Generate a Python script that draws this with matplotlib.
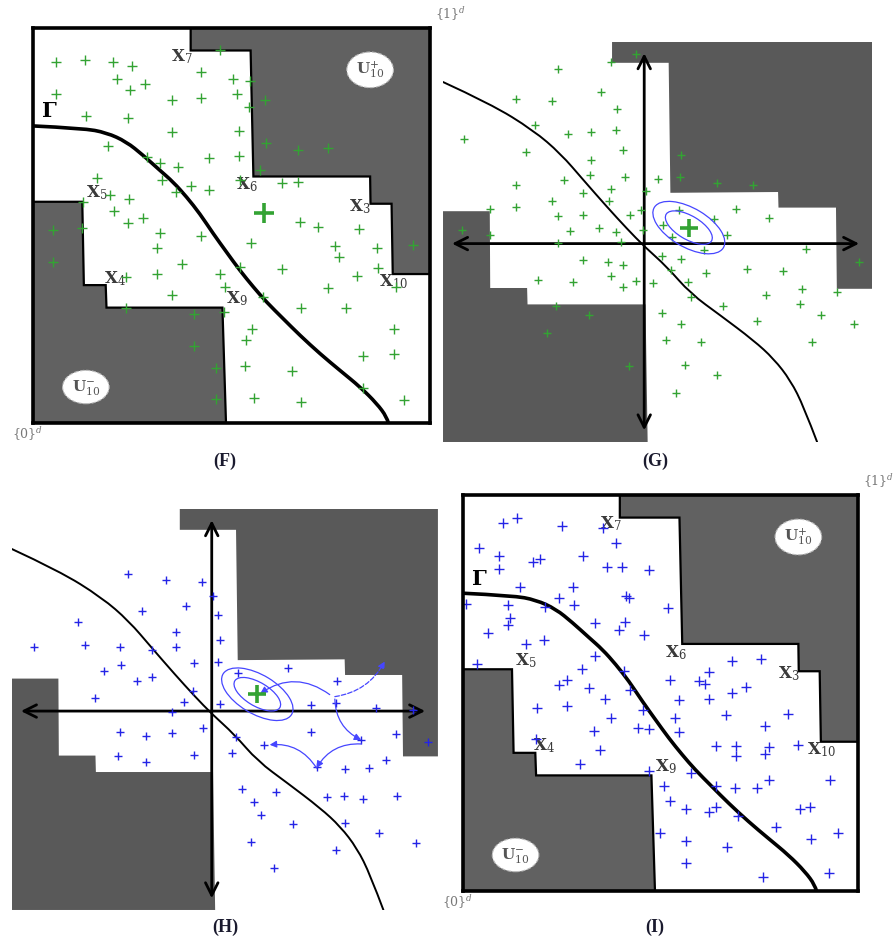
import matplotlib.pyplot as plt
from matplotlib.patches import Polygon, Ellipse, FancyArrowPatch, PathPatch
from matplotlib.path import Path

plt.rcParams['mathtext.fontset'] = 'dejavuserif'

# ---------------- shapes (panel units 0..100) ----------------
# (F) and (I): whole unit cube
box_upper = [(39.7, 100), (39.7, 94.3), (54.8, 94.3), (55.5, 62.4), (84.9, 62.4), (85.0, 55.5),
             (90.3, 55.5), (90.6, 37.7), (100, 37.7), (100, 100)]
box_lower = [(0, 56.0), (12.4, 56.0), (12.8, 34.9), (18.3, 34.9), (18.5, 29.2), (47.7, 29.2),
             (48.6, 0), (0, 0)]
gamma_x = [0, 12.6, 18.5, 23.5, 27.7, 31.9, 35.3, 38.7, 42.0, 45.4, 48.7, 52.1, 55.5, 58.8,
           63.0, 67.2, 72.3, 77.3, 82.4, 86.6, 89.1, 89.5]
gamma_y = [75.2, 74.6, 73.5, 71.2, 67.8, 64.0, 61.0, 57.2, 53.0, 47.9, 43.3, 38.6, 34.4, 30.6,
           26.4, 22.2, 17.5, 13.3, 9.1, 4.9, 1.5, 0]
box_labels = [r'$\mathbf{X}_7$', r'$\mathbf{X}_5$', r'$\mathbf{X}_6$', r'$\mathbf{X}_3$',
              r'$\mathbf{X}_4$', r'$\mathbf{X}_9$']
box_label_x = [37.4, 16.0, 53.8, 82.4, 20.6, 51.3]
box_label_y = [92.8, 58.2, 60.3, 54.8, 36.6, 31.5]
x10_pos = (90.8, 35.8)
gamma_pos = (4.2, 78.9)
u_plus_pos = (84.9, 89.4)
u_minus_pos = (13.3, 9.1)

# (G) and (H): zoomed view around a point
zoom_upper = [(39.4, 100), (39.4, 94.8), (52.6, 94.8), (53.0, 62.3), (78.1, 62.5), (78.2, 58.6),
              (91.6, 58.6), (91.8, 38.3), (100, 38.3), (100, 100)]
zoom_lower = [(0, 57.7), (10.9, 57.7), (11.0, 38.5), (19.6, 38.5), (19.7, 34.4), (47.2, 34.4),
              (47.7, 0), (0, 0)]
curve_x = [0, 11.0, 21.1, 27.4, 32.8, 38.2, 42.9, 46.9, 52.2, 57.7, 64.6, 72.4, 77.1, 81.0, 84.1, 87.2]
curve_y = [90.0, 84.6, 77.9, 72.1, 65.4, 58.8, 53.3, 48.9, 43.8, 37.1, 31.7, 25.4, 20.8, 15.4, 8.8, 0]
origin = (46.9, 49.6)
h_axis = (2.1, 97.0)
v_axis = (97.2, 2.9)

# ---------------- points ----------------
f_x = [5.7, 13.2, 20.2, 25.0, 21.2, 28.3, 24.4, 5.7, 13.4, 23.8, 35.0, 42.4, 42.3, 50.3, 51.3, 47.1,
       54.6, 58.4, 54.5, 35.0, 51.9, 18.9, 28.6, 31.9, 36.4, 44.4, 51.8, 58.8, 66.8, 74.4, 57.1, 16.2,
       32.6, 39.9, 36.0, 44.4, 52.1, 62.6, 66.8, 19.3, 24.2, 12.6, 20.3, 23.8, 27.7, 5.0, 12.4, 31.9,
       42.3, 31.1, 54.9, 5.0, 37.4, 67.2, 71.7, 82.1, 76.1, 77.1, 86.6, 95.8, 86.8, 52.1, 23.5, 31.1,
       47.1, 62.6, 81.5, 48.3, 34.9, 57.8, 74.4, 91.3, 23.5, 40.6, 48.1, 67.5, 78.8, 55.2, 53.6, 90.9,
       40.6, 83.2, 90.8, 46.1, 53.4, 65.3, 83.2, 46.1, 55.7, 67.6, 93.4]
f_y = [91.4, 91.8, 91.4, 90.4, 87.2, 85.7, 84.2, 83.3, 77.6, 77.2, 81.8, 88.8, 82.2, 87.2, 83.3, 94.5,
       86.5, 81.8, 80.1, 73.6, 74.0, 70.0, 67.3, 65.8, 64.9, 67.0, 67.6, 70.8, 69.1, 69.7, 64.1, 62.1,
       61.5, 60.1, 58.4, 59.0, 61.5, 60.7, 61.0, 57.7, 56.8, 56.0, 53.7, 50.7, 52.0, 48.9, 49.3, 48.0,
       47.3, 44.2, 45.6, 40.7, 40.2, 51.0, 49.5, 49.0, 44.8, 42.1, 44.2, 45.1, 39.3, 39.6, 37.0, 37.6,
       37.6, 38.9, 37.2, 34.5, 32.5, 32.0, 34.1, 34.5, 29.0, 27.7, 28.1, 29.2, 29.2, 23.7, 21.0, 23.8,
       19.4, 16.9, 17.4, 14.0, 14.5, 13.1, 8.9, 6.0, 6.2, 5.3, 5.9]
f_center = (58.2, 53.1)

i_x = [10.0, 13.7, 25.1, 35.4, 38.8, 4.1, 9.0, 17.6, 19.4, 30.5, 9.1, 36.5, 40.3, 47.0, 14.5, 27.8,
       24.2, 41.2, 42.0, 0.7, 11.4, 20.7, 28.0, 51.9, 11.8, 11.4, 33.5, 40.9, 39.4, 6.3, 45.7, 16.0,
       20.4, 3.6, 33.5, 30.2, 40.8, 24.2, 26.3, 31.9, 42.4, 52.5, 62.3, 59.7, 61.2, 68.2, 75.5, 71.6,
       68.1, 62.2, 54.7, 35.9, 18.8, 26.2, 45.6, 53.6, 37.4, 33.2, 44.3, 47.1, 54.7, 66.7, 76.4, 82.3,
       18.6, 34.6, 64.0, 69.2, 77.5, 76.4, 69.0, 84.8, 29.5, 47.1, 57.8, 50.8, 64.0, 68.9, 74.5, 77.5,
       93.0, 52.5, 56.5, 62.4, 64.0, 69.6, 85.2, 87.9, 79.3, 49.8, 56.4, 66.8, 88.2, 94.9, 56.4, 75.9,
       92.7]
i_y = [93.0, 94.1, 92.2, 91.6, 87.8, 86.5, 84.6, 83.0, 83.8, 84.7, 81.2, 81.7, 81.9, 81.0, 76.8, 76.7,
       74.1, 74.5, 74.1, 72.6, 72.2, 71.8, 72.2, 71.4, 69.0, 67.1, 67.6, 68.0, 66.0, 65.2, 64.6, 62.5,
       63.5, 57.3, 59.4, 56.0, 55.5, 52.1, 53.2, 51.3, 50.7, 53.2, 55.2, 53.0, 52.4, 58.0, 58.5, 51.6,
       49.9, 48.6, 48.2, 48.4, 46.3, 46.8, 45.7, 43.6, 43.6, 40.4, 41.2, 41.0, 40.2, 44.4, 41.7, 44.8,
       38.5, 35.7, 36.6, 36.6, 36.4, 34.5, 34.0, 36.8, 32.2, 30.2, 29.7, 26.5, 26.6, 25.9, 25.9, 28.1,
       28.1, 22.7, 20.6, 20.0, 21.2, 19.0, 20.6, 21.2, 16.2, 14.7, 12.6, 11.0, 13.2, 14.7, 7.2, 3.5,
       4.6]

g_x = [45.1, 39.2, 26.7, 36.8, 17.1, 25.4, 40.6, 21.5, 5.0, 29.1, 34.5, 40.4, 19.3, 41.9, 34.5, 55.5,
       34.2, 28.1, 42.5, 50.1, 55.3, 63.9, 72.3, 17.0, 32.6, 39.2, 47.4, 25.4, 38.6, 10.9, 16.9, 26.7,
       32.6, 43.7, 46.2, 54.9, 63.1, 68.4, 76.1, 4.4, 11.0, 29.7, 36.4, 40.4, 46.6, 51.3, 53.4, 66.2,
       26.7, 41.6, 84.7, 60.9, 51.0, 55.5, 32.6, 38.4, 42.0, 53.1, 61.4, 70.9, 79.3, 96.9, 22.1, 30.3,
       39.2, 45.0, 41.9, 48.9, 57.0, 57.8, 75.4, 83.7, 91.8, 83.1, 26.3, 34.1, 65.3, 51.0, 55.5, 73.2,
       88.1, 95.7, 24.2, 52.0, 60.2, 86.0, 43.3, 56.3, 63.9, 54.2]
g_y = [97.1, 95.0, 93.3, 87.5, 85.7, 85.2, 83.3, 79.3, 75.8, 76.9, 77.5, 77.9, 72.5, 72.9, 70.6, 71.7,
       66.8, 65.4, 66.2, 65.8, 66.2, 64.8, 64.3, 64.2, 62.2, 63.2, 62.7, 60.2, 60.2, 58.3, 58.8, 56.5,
       56.8, 56.7, 58.1, 57.9, 55.8, 58.3, 56.1, 52.9, 51.7, 52.8, 53.5, 52.5, 52.9, 54.3, 51.2, 51.7,
       49.8, 50.0, 48.3, 47.9, 46.5, 45.8, 45.6, 45.0, 44.2, 42.9, 42.2, 43.3, 42.8, 45.0, 40.4, 40.0,
       41.4, 40.2, 38.8, 39.8, 40.0, 36.2, 36.8, 38.2, 37.5, 34.6, 33.9, 31.7, 33.9, 32.3, 29.6, 30.2,
       31.7, 29.4, 27.2, 25.4, 25.0, 25.0, 18.9, 19.2, 16.7, 12.3]
g_center = (57.3, 53.6)

h_x = [27.3, 36.2, 44.5, 47.1, 15.5, 30.5, 40.8, 48.4, 38.5, 5.1, 17.2, 25.4, 32.8, 38.5, 48.8, 25.5,
       21.6, 29.3, 32.8, 42.8, 48.4, 53.0, 64.8, 76.2, 19.4, 42.6, 40.5, 48.8, 37.5, 70.3, 76.0, 85.5,
       94.1, 25.4, 31.5, 37.5, 44.8, 52.7, 70.3, 82.0, 90.1, 97.7, 59.1, 51.6, 24.8, 31.5, 42.8, 71.5,
       78.1, 83.8, 87.9, 53.9, 62.1, 74.0, 78.0, 82.3, 90.4, 56.8, 58.4, 66.0, 78.3, 86.1, 94.8, 56.1,
       76.0, 61.5]
h_y = [83.9, 82.4, 81.9, 78.4, 71.7, 74.5, 75.9, 73.6, 69.2, 65.7, 66.0, 65.5, 64.9, 65.5, 67.2, 61.1,
       59.5, 57.2, 58.2, 61.6, 61.8, 59.1, 60.3, 57.0, 52.8, 54.7, 51.8, 51.4, 49.3, 51.2, 51.7, 50.3,
       49.9, 44.3, 43.5, 44.1, 45.3, 43.1, 44.3, 42.4, 43.9, 41.8, 41.2, 39.1, 38.3, 36.8, 38.7, 35.6,
       35.1, 35.5, 37.3, 30.1, 29.5, 28.1, 28.5, 27.6, 28.5, 26.9, 23.7, 21.5, 21.6, 19.3, 16.8, 16.9,
       15.0, 10.4]
h_center = (57.6, 53.8)
# sampling path in (H): (start, end, curvature, dashed)
h_moves = [((74.6, 53.7), (58.3, 54.0), 0.35, False),
           ((75.8, 52.6), (82.0, 42.4), 0.3, False),
           ((82.0, 41.4), (71.5, 35.4), 0.3, False),
           ((71.5, 35.4), (60.5, 41.2), 0.3, False),
           ((75.8, 53.2), (87.5, 62.0), 0.25, True)]

panel_names = ['(F)', '(G)', '(H)', '(I)']
panel_name_px = [(225, 461), (655, 461), (225, 927), (655, 927)]

# ---------------- figure ----------------
DARK = '#616161'
GREEN = '#33a333'
BLUE = '#2424e6'
LABEL = '#3a3a3a'

fig = plt.figure(figsize=(8.93, 9.42), dpi=100)
ax_f = fig.add_axes([0.0370, 0.5510, 0.4446, 0.4193])
ax_g = fig.add_axes([0.4961, 0.5308, 0.4804, 0.4246])
ax_h = fig.add_axes([0.0134, 0.0340, 0.4770, 0.4257])
ax_i = fig.add_axes([0.5185, 0.0541, 0.4423, 0.4204])

for ax in (ax_f, ax_g, ax_h, ax_i):
    ax.set_xlim(0, 100)
    ax.set_ylim(0, 100)
    ax.set_xticks([])
    ax.set_yticks([])


def smooth_line(ax, xs, ys, lw):
    # quadratic Bezier through midpoints, using the read points as control points
    pts = list(zip(xs, ys))
    verts = [pts[0]]
    codes = [Path.MOVETO]
    for k in range(1, len(pts) - 1):
        if k < len(pts) - 2:
            end = ((pts[k][0] + pts[k + 1][0]) / 2, (pts[k][1] + pts[k + 1][1]) / 2)
        else:
            end = pts[k + 1]
        verts += [pts[k], end]
        codes += [Path.CURVE3, Path.CURVE3]
    ax.add_patch(PathPatch(Path(verts, codes), fc='none', ec='black', lw=lw, zorder=3,
                           capstyle='round'))


def draw_cube(ax, px, py, color, center=None):
    ax.add_patch(Polygon(box_upper, closed=True, fc=DARK, ec='black', lw=1.6, zorder=1))
    ax.add_patch(Polygon(box_lower, closed=True, fc=DARK, ec='black', lw=1.6, zorder=1))
    smooth_line(ax, gamma_x, gamma_y, 2.6)
    ax.plot(px, py, ls='none', marker='+', ms=7, mew=1.0, color=color, zorder=4)
    if center is not None:
        ax.plot(*center, marker='+', ms=15, mew=2.6, color=GREEN, zorder=5)
    for lab, x, y in zip(box_labels, box_label_x, box_label_y):
        ax.text(x, y, lab, fontsize=12, color=LABEL, ha='center', va='center', zorder=3)
    ax.text(*x10_pos, r'$\mathbf{X}_{10}$', fontsize=12, color=LABEL, ha='center', va='center', zorder=3)
    ax.text(*gamma_pos, r'$\mathbf{\Gamma}$', fontsize=15, color='black', ha='center', va='center')
    for pos, lab in ((u_plus_pos, r'$\mathbf{U}^{+}_{10}$'), (u_minus_pos, r'$\mathbf{U}^{-}_{10}$')):
        ax.text(*pos, lab, fontsize=11, color='#555555', ha='center', va='center', zorder=3,
                bbox=dict(boxstyle='ellipse,pad=0.15', fc='white', ec='#bbbbbb', ls='--', lw=0.8))
    for sp in ax.spines.values():
        sp.set_linewidth(2.6)
        sp.set_zorder(6)
    ax.text(1.012, 1.035, r'$\{1\}^d$', transform=ax.transAxes, fontsize=9, color='#777777',
            ha='left', va='center')
    ax.text(-0.052, -0.028, r'$\{0\}^d$', transform=ax.transAxes, fontsize=9, color='#777777',
            ha='left', va='center')


def draw_zoom(ax, px, py, color, center):
    ax.add_patch(Polygon(zoom_upper, closed=True, fc='#595959', ec='none', zorder=1))
    ax.add_patch(Polygon(zoom_lower, closed=True, fc='#595959', ec='none', zorder=1))
    smooth_line(ax, curve_x, curve_y, 1.4)
    for a, b in (((h_axis[0], origin[1]), (h_axis[1], origin[1])),
                 ((origin[0], v_axis[0]), (origin[0], v_axis[1]))):
        ax.add_patch(FancyArrowPatch(a, b, arrowstyle='<->,head_length=9,head_width=4.5',
                                     color='black', lw=2.0, zorder=4, shrinkA=0, shrinkB=0))
    for w, h in ((12.5, 5.8), (19.0, 9.6)):
        ax.add_patch(Ellipse(center, w, h, angle=-33, fc='none', ec='#4646ff', lw=0.9, zorder=5))
    ax.plot(px, py, ls='none', marker='+', ms=6, mew=1.0, color=color, zorder=4)
    ax.plot(*center, marker='+', ms=13, mew=2.6, color=GREEN, zorder=6)
    for sp in ax.spines.values():
        sp.set_visible(False)


draw_cube(ax_f, f_x, f_y, GREEN, f_center)
draw_zoom(ax_g, g_x, g_y, GREEN, g_center)
draw_zoom(ax_h, h_x, h_y, BLUE, h_center)
draw_cube(ax_i, i_x, i_y, BLUE)

for a, b, rad, dashed in h_moves:
    ax_h.add_patch(FancyArrowPatch(a, b, connectionstyle=f'arc3,rad={rad}',
                                   arrowstyle='-|>,head_length=4,head_width=2',
                                   color='#4646ff', lw=0.9, ls='--' if dashed else '-',
                                   shrinkA=0, shrinkB=0, zorder=5))

for lab, (x, y) in zip(panel_names, panel_name_px):
    fig.text(x / 893, 1 - y / 942, lab, fontsize=13, fontweight='bold', family='Liberation Serif',
             color='#1a1a2e', ha='center', va='center')

fig.savefig('out.png', dpi=100)
